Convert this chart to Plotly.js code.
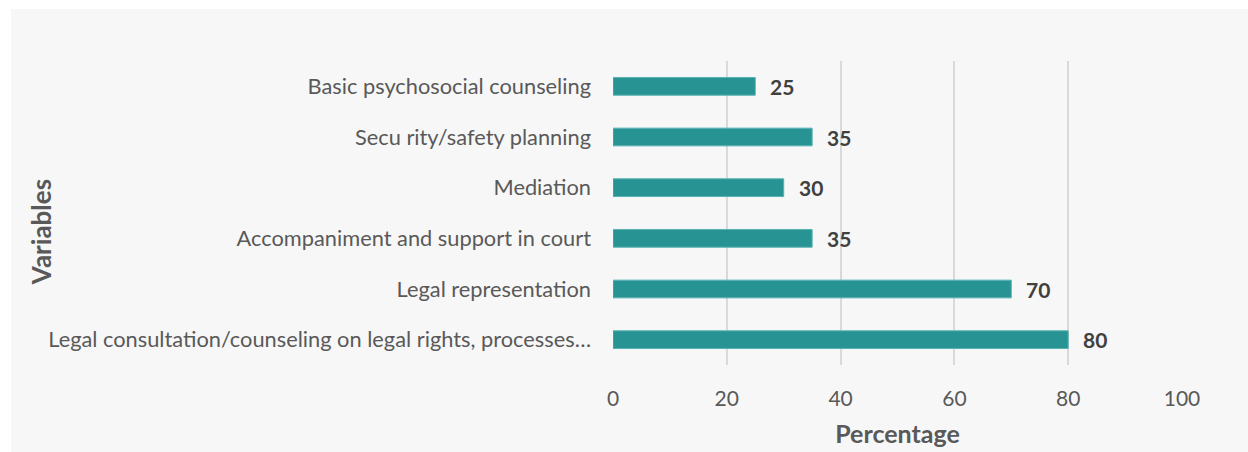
<!DOCTYPE html>
<html><head><meta charset="utf-8">
<script src="https://cdn.plot.ly/plotly-3.0.1.min.js"></script>
<style>
html,body{margin:0;padding:0;background:#ffffff;}
#chart{position:absolute;left:11px;top:9px;width:1237px;height:443px;}
</style></head>
<body><div id="chart"></div>
<script>
const categories = [
  "Basic psychosocial counseling",
  "Secu rity/safety planning",
  "Mediation",
  "Accompaniment and support in court",
  "Legal representation",
  "Legal consultation/counseling on legal rights, processes\u2026"
];
const values = [25, 35, 30, 35, 70, 80];
const xTicks = [0, 20, 40, 60, 80, 100];

const FONT = "Lato, Open Sans, sans-serif";

const trace = {
  type: "bar",
  orientation: "h",
  x: values,
  y: categories,
  marker: {color: "#279393", line: {color: "#5ab3b3", width: 1}},
  hoverinfo: "none"
};

const annotations = values.map((v, i) => ({
  x: v, y: categories[i], xref: "x", yref: "y",
  text: "<b>" + v + "</b>", showarrow: false,
  xanchor: "left", xshift: 13,
  font: {family: FONT, size: 21, color: "#404040"}
}));
annotations.push({
  xref: "paper", yref: "paper", x: -1.005, y: 0.4375,
  xanchor: "center", yanchor: "middle",
  text: "<b>Variables</b>", showarrow: false, textangle: -90,
  font: {family: FONT, size: 26, color: "#595959"}
});

const layout = {
  width: 1237, height: 443,
  paper_bgcolor: "#f7f7f7", plot_bgcolor: "#f7f7f7",
  margin: {l: 602, r: 66, t: 52, b: 87, pad: 0},
  bargap: 0.65,
  showlegend: false,
  font: {family: FONT, color: "#595959"},
  xaxis: {
    range: [0, 100], tickvals: xTicks, ticktext: xTicks.map(String),
    showgrid: true, gridcolor: "#d9d9d9", gridwidth: 2,
    zeroline: false, showline: false, ticks: "",
    ticklabelstandoff: 19,
    tickfont: {family: FONT, size: 21, color: "#595959"},
    title: {text: "<b>Percentage</b>", standoff: 16, font: {family: FONT, size: 25, color: "#595959"}},
    fixedrange: true
  },
  yaxis: {
    type: "category", autorange: "reversed",
    showgrid: false, zeroline: false, showline: false, ticks: "",
    ticklabelstandoff: 21,
    tickfont: {family: FONT, size: 21.8, color: "#595959"},
    fixedrange: true
  },
  annotations: annotations
};

Plotly.newPlot("chart", [trace], layout, {displayModeBar: false, staticPlot: true});
</script></body></html>
